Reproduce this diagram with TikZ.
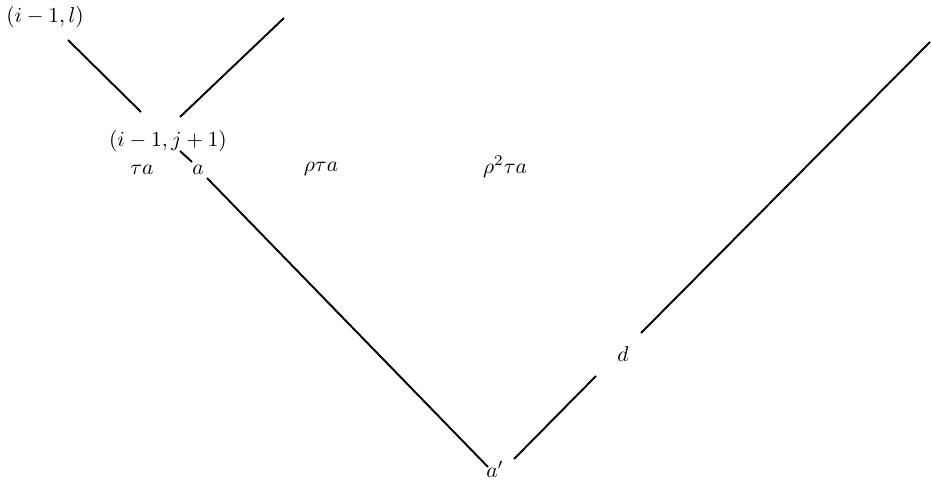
\documentclass[tikz,border=0pt]{standalone}
\usetikzlibrary{positioning}

\begin{document}
\begin{tikzpicture}[x=0.016363cm, y=-0.016363cm, line width=0.9pt, inner sep=0pt]
\useasboundingbox (0,0) rectangle (932,480);
% labels
\node (il) at (45,17) {$(i-1,l)$};
\node (ij) at (168,141) {$(i-1,j+1)$};
\node (ta) at (142,170) {$\tau a$};
\node (a) at (198,170) {$a$};
\node (rta) at (321,169) {$\rho\tau a$};
\node (rrta) at (505,167) {$\rho^2\tau a$};
\node (d) at (623,354) {$d$};
\node (ap) at (495,469) {$a'$};
%
\coordinate (il end) at (68,40);
\coordinate (ij left) at (141,112);
\coordinate (ij right) at (180,117);
\coordinate (top end) at (284,18);
\coordinate (a up) at (180,151);
\coordinate (a in) at (192,162);
\coordinate (a out) at (207,178);
\coordinate (ap left) at (488,467);
\coordinate (ap right) at (514,459);
\coordinate (d low) at (596,376);
\coordinate (d high) at (641,333);
\coordinate (right end) at (930,42);
%
\draw (il end) -- (ij left);
\draw (ij right) -- (top end);
\draw (a up) -- (a in);
\draw (a out) -- (ap left);
\draw (ap right) -- (d low);
\draw (d high) -- (right end);
\end{tikzpicture}
\end{document}
